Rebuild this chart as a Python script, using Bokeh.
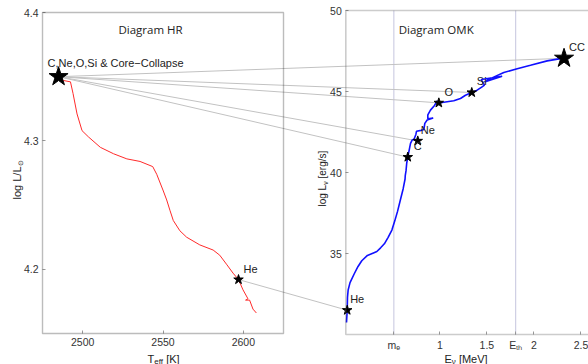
from math import pi
from bokeh.plotting import figure
from bokeh.models import Range1d, LinearAxis, FixedTicker, BoxAnnotation, Label
from bokeh.core.properties import value
from bokeh.embed import file_html
from bokeh.resources import INLINE

# ---------------- data ----------------
hr_teff_range = (2475, 2625)
hr_logl_range = (4.15, 4.40)
omk_e_range = (0.0, 2.58)
omk_logl_range = (30, 50)

hr_x_ticks = [2500, 2550, 2600]
hr_y_ticks = [4.2, 4.3, 4.4]
omk_x_ticks = [0.511, 1.0, 1.5, 1.806, 2.0, 2.5]
omk_x_tick_labels = ["mₑ", "1", "1.5", "Eₜₕ", "2", "2.5"]
omk_y_ticks = [35, 40, 45, 50]
ref_energies = [0.511, 1.806]

hr_track_teff = [2485, 2488.2, 2492.4, 2494.0, 2496.5, 2499.6, 2503.7, 2511.0, 2519.2,
                 2527.5, 2535.7, 2543.6, 2546.1, 2550.2, 2552.3, 2554.3, 2556.4, 2560.5,
                 2564.7, 2572.9, 2581.2, 2585.3, 2589.5, 2593.6, 2597.0, 2599.8, 2602.9,
                 2601.4, 2603.9, 2606.0, 2608.1]
hr_track_logl = [4.350, 4.347, 4.346, 4.337, 4.321, 4.308, 4.303, 4.295, 4.290,
                 4.286, 4.284, 4.280, 4.274, 4.261, 4.254, 4.246, 4.238, 4.230,
                 4.225, 4.219, 4.215, 4.211, 4.204, 4.197, 4.192, 4.184, 4.177,
                 4.176, 4.176, 4.169, 4.166]

omk_track_e = [0.0075, 0.015, 0.018, 0.025, 0.045, 0.09, 0.13, 0.17, 0.23, 0.30, 0.33,
               0.37, 0.41, 0.45, 0.49, 0.52, 0.55, 0.58, 0.61, 0.63, 0.632, 0.64, 0.648,
               0.659, 0.688, 0.705, 0.725, 0.745, 0.752, 0.80, 0.83, 0.84, 0.865, 0.929,
               0.872, 0.872, 0.900, 0.943, 0.964, 0.975, 0.96, 0.989, 1.042, 1.148, 1.219,
               1.272, 1.339, 1.396, 1.449, 1.474, 1.439, 1.662, 1.474, 1.531, 1.680,
               1.822, 1.963, 2.141, 2.282, 2.32]
omk_track_logl = [30.74, 31.50, 32.3, 32.75, 33.2, 33.75, 34.2, 34.55, 34.88, 35.05, 35.12,
                  35.35, 35.6, 36.0, 36.45, 37.0, 37.6, 38.3, 39.0, 39.6, 39.8, 40.1, 40.6,
                  40.95, 41.80, 42.0, 42.05, 42.35, 42.55, 42.6, 42.65, 43.03, 43.24, 43.36,
                  43.32, 43.55, 43.85, 44.14, 44.34, 44.4, 44.38, 44.30, 44.34, 44.43, 44.57,
                  44.77, 44.94, 45.08, 45.29, 45.39, 45.74, 45.94, 45.59, 45.78, 46.17,
                  46.41, 46.62, 46.89, 47.03, 47.05]

stage_names = ["He", "C", "Ne", "O", "Si", "CC"]
hr_stage_teff = [2597, 2485, 2485, 2485, 2485, 2485]
hr_stage_logl = [4.192, 4.35, 4.35, 4.35, 4.35, 4.35]
omk_stage_e = [0.015, 0.659, 0.765, 0.989, 1.339, 2.32]
omk_stage_logl = [31.5, 40.95, 41.95, 44.30, 44.94, 47.05]

# ---------------- layout (pixels) ----------------
W, H = 588, 364
FL, FR, FT, FB = 0, W, 0, H                  # plot frame = whole canvas
HR_L, HR_R, HR_T, HR_B = 42, 283, 12, 333     # left panel box
OM_L, OM_R, OM_T, OM_B = 345.3, 588, 10, 334  # right panel box


def xr(lo, hi, p_lo, p_hi):
    k = (hi - lo) / (p_hi - p_lo)
    return lo + (FL - p_lo) * k, lo + (FR - p_lo) * k


def yr(lo, hi, p_top, p_bot):
    k = (hi - lo) / (p_bot - p_top)
    return lo - (FB - p_bot) * k, hi + (p_top - FT) * k


LX0, LX1 = xr(*hr_teff_range, HR_L, HR_R)
LY0, LY1 = yr(*hr_logl_range, HR_T, HR_B)
RX0, RX1 = xr(*omk_e_range, OM_L, OM_R)
RY0, RY1 = yr(*omk_logl_range, OM_T, OM_B)


def to_rx(x):
    return RX0 + (x - LX0) * (RX1 - RX0) / (LX1 - LX0)


def to_ry(y):
    return RY0 + (y - LY0) * (RY1 - RY0) / (LY1 - LY0)


p = figure(width=W, height=H, x_range=Range1d(LX0, LX1), y_range=Range1d(LY0, LY1),
           x_axis_type=None, y_axis_type=None, output_backend="svg", toolbar_location=None,
           min_border=0, min_border_left=0, min_border_right=0, min_border_top=0,
           min_border_bottom=0)
p.extra_x_ranges = {"omk": Range1d(RX0, RX1)}
p.extra_y_ranges = {"omk": Range1d(RY0, RY1)}
p.outline_line_color = None
p.background_fill_color = "white"
p.border_fill_color = "white"

TICK_FONT = "Liberation Sans"


def style_axis(ax):
    ax.axis_line_color = None
    ax.major_tick_in = 3
    ax.major_tick_out = 0
    ax.minor_tick_line_color = None
    ax.major_tick_line_color = "#999999"
    ax.major_label_text_font = TICK_FONT
    ax.major_label_text_font_size = "10.5px"
    ax.major_label_text_color = "#333333"
    ax.major_label_standoff = 4


ax = LinearAxis(ticker=FixedTicker(ticks=hr_x_ticks), bounds=hr_teff_range,
                fixed_location=hr_logl_range[0])
style_axis(ax)
p.add_layout(ax, "below")
ay = LinearAxis(ticker=FixedTicker(ticks=hr_y_ticks), bounds=hr_logl_range,
                fixed_location=hr_teff_range[0])
style_axis(ay)
p.add_layout(ay, "left")
bx = LinearAxis(x_range_name="omk", y_range_name="omk", ticker=FixedTicker(ticks=omk_x_ticks),
                bounds=omk_e_range, fixed_location=omk_logl_range[0],
                major_label_overrides=dict(zip(omk_x_ticks, omk_x_tick_labels)))
style_axis(bx)
p.add_layout(bx, "below")
by = LinearAxis(x_range_name="omk", y_range_name="omk", ticker=FixedTicker(ticks=omk_y_ticks),
                bounds=omk_logl_range, fixed_location=omk_e_range[0])
style_axis(by)
p.add_layout(by, "left")

# panel frames
p.add_layout(BoxAnnotation(left=hr_teff_range[0], right=hr_teff_range[1],
                           bottom=hr_logl_range[0], top=hr_logl_range[1],
                           fill_alpha=0, line_color="#222222", line_width=1.4))
p.add_layout(BoxAnnotation(x_range_name="omk", y_range_name="omk",
                           left=omk_e_range[0], right=omk_e_range[1] + 1,
                           bottom=omk_logl_range[0], top=omk_logl_range[1],
                           fill_alpha=0, line_color="#555555", line_width=1.6))

# reference energies
p.segment(ref_energies, [omk_logl_range[0]] * 2, ref_energies, [omk_logl_range[1]] * 2,
          x_range_name="omk", y_range_name="omk", line_color="#c6c6de", line_width=1)

# connecting lines
p.segment([to_rx(t) for t in hr_stage_teff], [to_ry(l) for l in hr_stage_logl],
          omk_stage_e, omk_stage_logl, x_range_name="omk", y_range_name="omk",
          line_color="#c2c2c2", line_width=1)

# tracks
p.line(hr_track_teff, hr_track_logl, line_color="#ff2a2a", line_width=1)
p.line(omk_track_e, omk_track_logl, x_range_name="omk", y_range_name="omk",
       line_color="#1010ff", line_width=1.6)

# stars
p.scatter(hr_stage_teff[:1], hr_stage_logl[:1], marker="star", size=10, color="black")
p.scatter(hr_stage_teff[1:2], hr_stage_logl[1:2], marker="star", size=20, color="black")
p.scatter(omk_stage_e[:-1], omk_stage_logl[:-1], marker="star", size=10, color="black",
          x_range_name="omk", y_range_name="omk")
p.scatter(omk_stage_e[-1:], omk_stage_logl[-1:], marker="star", size=20, color="black",
          x_range_name="omk", y_range_name="omk")

LBL = dict(text_font=value("Liberation Sans"), text_font_size="11px", text_color="#222222",
           text_baseline="middle")
p.text(omk_stage_e[:-1], omk_stage_logl[:-1], text=stage_names[:-1], x_offset=10, y_offset=-11,
       text_align="center", x_range_name="omk", y_range_name="omk", **LBL)
p.text(omk_stage_e[-1:], omk_stage_logl[-1:], text=stage_names[-1:], x_offset=13, y_offset=-11,
       text_align="center", x_range_name="omk", y_range_name="omk", **LBL)
p.text(hr_stage_teff[:1], hr_stage_logl[:1], text=stage_names[:1], x_offset=12, y_offset=-11,
       text_align="center", **LBL)
p.text(hr_stage_teff[1:2], hr_stage_logl[1:2],
       text=[",".join(stage_names[1:5]) + " & Core\u2212Collapse"],
       x_offset=-11, y_offset=-14, text_align="left", **LBL)

# titles
for txt, px in (("Diagram HR", 150), ("Diagram OMK", 435.7)):
    p.add_layout(Label(x=px - FL, y=FB - 29, x_units="screen", y_units="screen", text=txt,
                       text_font="Open Sans", text_font_size="11.5px", text_color="#222222",
                       text_align="center", text_baseline="middle"))

# axis labels with subscripts
CW = {"l": .222, "o": .556, "g": .556, " ": .278, "L": .556, "/": .278, "T": .611, "e": .556,
      "f": .278, "[": .278, "K": .667, "]": .278, "E": .667, "M": .833, "V": .667, "r": .333,
      "s": .5, "ν": .5, "⊙": .8}


def tw(s, size):
    return sum(CW.get(c, .556) for c in s) * size


def rich(pieces, px, py, rotated=False):
    sx, sy = px - FL, FB - py
    pos = 0
    for txt, size, shift in pieces:
        stripped = txt.lstrip(" ")
        pos += tw(txt[:len(txt) - len(stripped)], size)
        if rotated:
            lab = Label(x=sx + shift, y=sy + pos, angle=pi / 2)
        else:
            lab = Label(x=sx + pos, y=sy - shift)
        lab.update(x_units="screen", y_units="screen", text=stripped, text_font=TICK_FONT,
                   text_font_size=f"{size}px", text_color="#222222",
                   text_align="left", text_baseline="alphabetic")
        p.add_layout(lab)
        pos += tw(stripped, size)


rich([("T", 11, 0), ("eff", 8, 2.5), (" [K]", 11, 0)], 147, 358)
rich([("E", 11, 0), ("ν", 8, 2.5), (" [MeV]", 11, 0)], 444, 358)
rich([("log L/L", 11, 0), ("⊙", 7, 3)], 16.5, 199, rotated=True)
rich([("log L", 10, 0), ("ν", 7, 3), (" [erg/s]", 10, 0)], 322, 206, rotated=True)

open("out.html", "w").write(file_html(p, INLINE))
